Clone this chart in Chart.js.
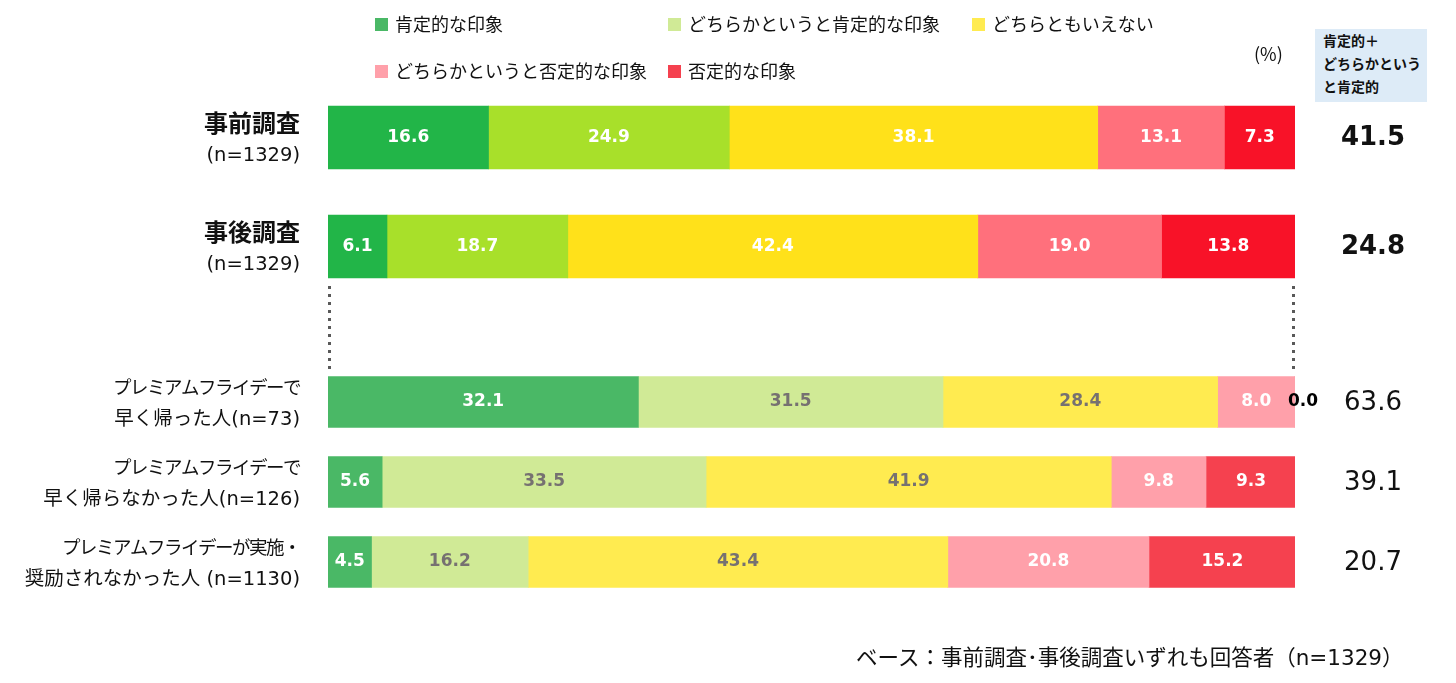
<!DOCTYPE html>
<html>
<head>
<meta charset="utf-8">
<script src="https://cdn.jsdelivr.net/npm/chart.js@4"></script>
<style>
  body { margin: 0; background: #fff; font-family: "Noto Sans CJK JP", sans-serif; }
  #wrap { position: relative; width: 1456px; height: 683px; overflow: hidden; }
  canvas { position: absolute; left: 0; top: 0; }
  #legend { position: absolute; left: 0; top: 0; }
  .item { position: absolute; font-size: 18px; color: #111; white-space: nowrap; line-height: 24px; }
  .item span.box { display: inline-block; width: 13px; height: 13px; margin-right: 7px; vertical-align: 0px; }
  #pct { position: absolute; left: 1254px; top: 40px; font-size: 18px; color: #111; }
  #head { position: absolute; left: 1315px; top: 29px; width: 112px; height: 73px; background: #ddebf7;
          font-size: 14px; font-weight: bold; line-height: 23px; padding-left: 8px; box-sizing: border-box; color: #111; }
  #note { position: absolute; left: 856px; top: 640px; font-size: 21.5px; color: #111; white-space: nowrap;
          font-family: "DejaVu Sans", "Noto Sans CJK JP", sans-serif; }
</style>
</head>
<body>
<div id="wrap">
  <canvas id="topCanvas" width="1456" height="683"></canvas>
  <canvas id="bottomCanvas" width="1456" height="683"></canvas>
  <div id="legend"></div>
  <div id="pct">(%)</div>
  <div id="head">肯定的＋<br>どちらかという<br>と肯定的</div>
  <div id="note">ベース：事前調査･事後調査いずれも回答者（n=1329）</div>
</div>
<script>
const categories = ['肯定的な印象', 'どちらかというと肯定的な印象', 'どちらともいえない', 'どちらかというと否定的な印象', '否定的な印象'];
const rowLabels = [
    ['事前調査', '(n=1329)'],
    ['事後調査', '(n=1329)'],
    ['プレミアムフライデーで', '早く帰った人(n=73)'],
    ['プレミアムフライデーで', '早く帰らなかった人(n=126)'],
    ['プレミアムフライデーが実施・', '奨励されなかった人 (n=1130)']
];
const positive = [16.6, 6.1, 32.1, 5.6, 4.5];
const somewhatPositive = [24.9, 18.7, 31.5, 33.5, 16.2];
const neutral = [38.1, 42.4, 28.4, 41.9, 43.4];
const somewhatNegative = [13.1, 19.0, 8.0, 9.8, 20.8];
const negative = [7.3, 13.8, 0.0, 9.3, 15.2];
const positiveTotal = [41.5, 24.8, 63.6, 39.1, 20.7];

const strongColors = ['#22b548', '#a8e02a', '#ffe11a', '#ff707c', '#f81228'];
const softColors = ['#4ab866', '#d0ea96', '#ffeb50', '#ffa0aa', '#f5414f'];
const softLabelColors = ['#ffffff', '#767171', '#767171', '#ffffff', '#ffffff'];

const allSeries = [positive, somewhatPositive, neutral, somewhatNegative, negative];
const mixFont = '"DejaVu Sans", "Noto Sans CJK JP"';

// html legend in two rows
const legendPos = [[375, 11], [668, 11], [972, 11], [375, 58], [668, 58]];
const legend = document.getElementById('legend');
categories.forEach((c, i) => {
    const d = document.createElement('div');
    d.className = 'item';
    d.style.left = legendPos[i][0] + 'px';
    d.style.top = legendPos[i][1] + 'px';
    d.innerHTML = '<span class="box" style="background:' + softColors[i] + '"></span>' + c;
    legend.appendChild(d);
});

const textPlugin = {
    id: 'textPlugin',
    afterDatasetsDraw(chart, args, opts) {
        const ctx = chart.ctx;
        const yScale = chart.scales.y;
        ctx.save();
        ctx.textBaseline = 'middle';
        // values inside bars
        chart.data.datasets.forEach((ds, di) => {
            const meta = chart.getDatasetMeta(di);
            meta.data.forEach((bar, i) => {
                const v = ds.data[i];
                ctx.font = 'bold 17px ' + mixFont;
                if (v === 0) {
                    ctx.fillStyle = '#000';
                    ctx.textAlign = 'left';
                    ctx.fillText(v.toFixed(1), bar.x - 7, bar.y);
                } else {
                    ctx.fillStyle = opts.labelColors[di];
                    ctx.textAlign = 'center';
                    const c = bar.getCenterPoint();
                    ctx.fillText(v.toFixed(1), c.x, c.y);
                }
            });
        });
        // row labels and totals
        opts.labels.forEach((lines, i) => {
            const y = yScale.getPixelForValue(i);
            ctx.textAlign = 'right';
            ctx.fillStyle = '#111';
            ctx.font = opts.firstFont;
            ctx.letterSpacing = opts.firstSpacing;
            ctx.fillText(lines[0], 300, y - 15);
            ctx.letterSpacing = '0px';
            ctx.font = '19.5px ' + mixFont;
            ctx.fillText(lines[1], 300, y + 18);
            ctx.textAlign = 'center';
            ctx.font = opts.totalFont;
            ctx.fillText(opts.totals[i].toFixed(1), 1373, y + 1);
        });
        // dotted connectors
        if (opts.dotted) {
            const area = chart.chartArea;
            const first = chart.getDatasetMeta(0).data[0];
            const top = first.y - first.height / 2;
            ctx.strokeStyle = '#595959';
            ctx.lineWidth = 3;
            ctx.setLineDash([3, 5]);
            [area.left + 1.5, area.right - 1.5].forEach(x => {
                ctx.beginPath();
                ctx.moveTo(x, 286);
                ctx.lineTo(x, top - 3);
                ctx.stroke();
            });
        }
        ctx.restore();
    }
};

function makeChart(id, from, to, colors, labelColors, thickness, padding, opts) {
    return new Chart(document.getElementById(id), {
        type: 'bar',
        data: {
            labels: rowLabels.slice(from, to).map(l => l.join(' ')),
            datasets: categories.map((c, i) => ({
                label: c,
                data: allSeries[i].slice(from, to),
                backgroundColor: colors[i],
                borderWidth: 0,
                barThickness: thickness
            }))
        },
        options: {
            indexAxis: 'y',
            responsive: false,
            animation: false,
            layout: { padding: padding },
            scales: {
                x: { stacked: true, min: 0, max: 100, display: false },
                y: { stacked: true, display: false }
            },
            plugins: {
                legend: { display: false },
                tooltip: { enabled: false },
                textPlugin: Object.assign({
                    labelColors: labelColors,
                    labels: rowLabels.slice(from, to),
                    totals: positiveTotal.slice(from, to)
                }, opts)
            }
        },
        plugins: [textPlugin]
    });
}

const graph1 = makeChart('topCanvas', 0, 2, strongColors, ['#fff', '#fff', '#fff', '#fff', '#fff'], 63,
    { left: 328, right: 161, top: 83, bottom: 382 },
    { firstFont: 'bold 24px "Noto Sans CJK JP"', firstSpacing: '0px', totalFont: 'bold 26px ' + mixFont, dotted: false });

const graph2 = makeChart('bottomCanvas', 2, 5, softColors, softLabelColors, 51,
    { left: 328, right: 161, top: 362, bottom: 81 },
    { firstFont: '18.5px "Noto Sans CJK JP"', firstSpacing: '-1.5px', totalFont: '26px ' + mixFont, dotted: true });
</script>
</body>
</html>
